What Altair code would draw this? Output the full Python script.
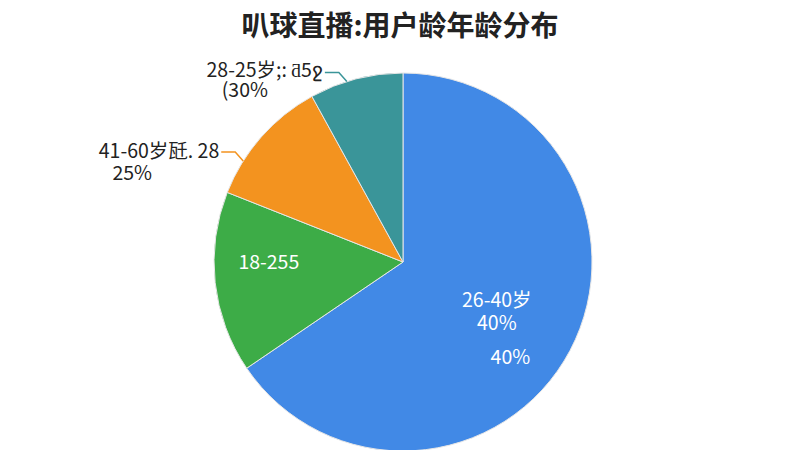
import math
import altair as alt
import pandas as pd

# ---- data ----
categories = ["26-40岁", "18-25岁", "41-60岁", "28-25岁"]
values = [65.5, 15.5, 11.0, 8.0]
colors = ["#4189E6", "#3DAC47", "#F3931F", "#3A9599"]
blue_label = ["26-40岁\n40%", "", "", ""]
green_label = ["", "18-255", "", ""]
extra_label = ["40%", "", "", ""]
outside_line1 = ["", "", "41-60岁瓩. 28", "28-25岁;: ƌ5ջ"]
outside_line2 = ["", "", "25%", "(30%"]
title_text = "叭球直播:用户龄年龄分布"

FONT = "Noto Sans CJK SC"
FS = 19.5
CX, CY, R = 395, 204, 189

df = pd.DataFrame({
    "idx": list(range(len(categories))),
    "cat": categories,
    "value": values,
    "lab_blue": blue_label,
    "lab_green": green_label,
    "lab_extra": extra_label,
})

color_scale = alt.Scale(domain=categories, range=colors)
base = alt.Chart(df).encode(
    theta=alt.Theta("value:Q", stack=True),
    order=alt.Order("idx:Q"),
)

arcs = base.mark_arc(outerRadius=R, stroke="#e6e6e6", strokeWidth=1).encode(
    color=alt.Color("cat:N", scale=color_scale, legend=None),
    x=alt.value(CX), y=alt.value(CY),
)

txt_blue = base.mark_text(radius=105, fontSize=FS, font=FONT, color="white",
                          lineBreak="\n", lineHeight=23, dx=1, dy=-10).encode(
    text="lab_blue:N", x=alt.value(CX), y=alt.value(CY))
txt_green = base.mark_text(radius=135, fontSize=FS, font=FONT, color="white",
                           dy=-14).encode(
    text="lab_green:N", x=alt.value(CX), y=alt.value(CY))
txt_extra = base.mark_text(radius=143, fontSize=FS, font=FONT, color="white",
                           dx=-19, dy=29).encode(
    text="lab_extra:N", x=alt.value(CX), y=alt.value(CY))

# ---- leader lines for outside labels (derived from slice angles) ----
total = sum(values)
fracs = {"41-60岁": 0.27, "28-25岁": 0.40}
rows, labrows = [], []
cum = 0.0
for c, v, l1, l2 in zip(categories, values, outside_line1, outside_line2):
    start = cum / total * 2 * math.pi
    end = (cum + v) / total * 2 * math.pi
    cum += v
    if c in fracs:
        a = start + fracs[c] * (end - start)
        x0 = CX + R * math.sin(a)
        y0 = CY - R * math.cos(a)
        x1, y1 = x0 - 8, y0 - 9
        x2, y2 = x1 - 14, y1
        for s, (px, py) in enumerate([(x0, y0), (x1, y1), (x2, y2)]):
            rows.append({"cat": c, "step": s, "px": px, "py": py})
        labrows.append({"cat": c, "px": x2, "py": y2, "l1": l1, "l2": l2})

lines_df = pd.DataFrame(rows)
lab_df = pd.DataFrame(labrows)

lines = alt.Chart(lines_df).mark_line(strokeWidth=1.5).encode(
    x=alt.X("px:Q", scale=None, axis=None),
    y=alt.Y("py:Q", scale=None, axis=None),
    color=alt.Color("cat:N", scale=color_scale, legend=None),
    detail="cat:N",
    order="step:Q",
)

lab_base = alt.Chart(lab_df).encode(
    x=alt.X("px:Q", scale=None, axis=None), y=alt.Y("py:Q", scale=None, axis=None))

def outside(cat, field, align, dx, dy):
    return lab_base.mark_text(align=align, baseline="middle", fontSize=FS, font=FONT,
                              color="#222222", dx=dx, dy=dy).encode(
        text=f"{field}:N").transform_filter(alt.datum.cat == cat)

t_or1 = outside("41-60岁", "l1", "right", -2, 0)
t_or2 = outside("41-60岁", "l2", "center", -89, 22)
t_te1 = outside("28-25岁", "l1", "right", -2, -2)
t_te2 = outside("28-25岁", "l2", "center", -80, 18)

chart = alt.layer(
    arcs, lines, txt_blue, txt_green, txt_extra, t_or1, t_or2, t_te1, t_te2
).properties(
    width=784, height=392,
    padding={"left": 0, "top": 50, "right": 0, "bottom": 0},
    autosize="none",
    background="white",
    title=alt.TitleParams(title_text, font=FONT, fontSize=28, fontWeight="bold",
                          color="#222222", anchor="middle", offset=16),
).configure_view(stroke="transparent", strokeWidth=0)

chart.save("out.html", embed_options={"renderer": "svg", "actions": False})
